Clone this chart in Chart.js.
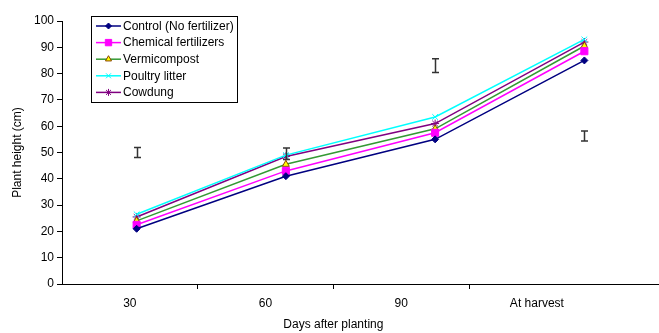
<!DOCTYPE html>
<html>
<head>
<meta charset="utf-8">
<script src="https://cdn.jsdelivr.net/npm/chart.js@4"></script>
<style>
  html, body { margin: 0; padding: 0; background: #fff; }
  #wrap { width: 659px; height: 333px; }
</style>
</head>
<body>
<div id="wrap"><canvas id="chart" width="659" height="333"></canvas></div>
<script>
// ---------------------------------------------------------------------------
// Data
// ---------------------------------------------------------------------------

const days = ['30', '60', '90', 'At harvest'];
const control = [21, 41, 55, 85];
const chemical = [22.5, 43, 57.5, 88.5];
const vermicompost = [24, 45.5, 59, 90.5];
const poultry = [26.5, 49, 63.5, 93];
const cowdung = [25.5, 48.5, 61, 92];

// free-standing LSD bars: centre and half length
const errMid = [50, 49.5, 83, 56.3];
const errHalf = [1.9, 2.2, 2.6, 1.9];

const Y_MIN = 0, Y_MAX = 100, Y_STEP = 10;
const LABEL_SPAN = 4.4;   // label axis is a bit narrower than the plot in the original

const FONT = { family: '"Liberation Sans", Arial, sans-serif', size: 12 };
const INK = '#000';

// ---------------------------------------------------------------------------
// Extras: error bars, boxed legend, x title
// ---------------------------------------------------------------------------

const extras = {
  id: 'extras',
  afterDatasetsDraw(chart) {
    const ctx = chart.ctx, xs = chart.scales.x, ys = chart.scales.y;
    ctx.save();
    ctx.strokeStyle = '#333';
    ctx.lineWidth = 1.5;
    errMid.forEach((m, i) => {
      const x = Math.round(xs.getPixelForValue(i)) + 0.5;
      const top = ys.getPixelForValue(m + errHalf[i]);
      const bot = ys.getPixelForValue(m - errHalf[i]);
      ctx.beginPath();
      ctx.moveTo(x, top); ctx.lineTo(x, bot);
      ctx.moveTo(x - 3.5, top); ctx.lineTo(x + 3.5, top);
      ctx.moveTo(x - 3.5, bot); ctx.lineTo(x + 3.5, bot);
      ctx.stroke();
    });
    ctx.restore();
  },
  afterDraw(chart) {
    const ctx = chart.ctx;
    ctx.save();
    // legend box
    ctx.fillStyle = '#fff';
    ctx.fillRect(91, 16, 146, 86);
    ctx.strokeStyle = '#000';
    ctx.lineWidth = 1;
    ctx.strokeRect(91.5, 16.5, 146, 86);
    ctx.font = `${FONT.size}px ${FONT.family}`;
    ctx.textBaseline = 'middle';
    chart.data.datasets.forEach((ds, i) => {
      const y = 26 + i * 16.6;
      ctx.strokeStyle = ds.borderColor;
      ctx.lineWidth = ds.borderWidth;
      ctx.beginPath(); ctx.moveTo(96, y); ctx.lineTo(121, y); ctx.stroke();
      if (Chart.helpers && Chart.helpers.drawPoint) {
        ctx.fillStyle = ds.pointBackgroundColor;
        ctx.strokeStyle = ds.pointBorderColor;
        ctx.lineWidth = 1;
        Chart.helpers.drawPoint(ctx, { pointStyle: ds.pointStyle, radius: ds.pointRadius - 0.5,
          borderWidth: 1, rotation: 0 }, 108.5, y);
      }
      ctx.fillStyle = INK;
      ctx.textAlign = 'left';
      ctx.fillText(ds.label, 123, y + 0.5);
    });
    // x axis title, centred under the label axis
    const xl = chart.scales.xl;
    ctx.textAlign = 'center';
    ctx.fillText('Days after planting', xl.getPixelForValue(days.length / 2), xl.bottom - 8);
    ctx.restore();
  }
};

// ---------------------------------------------------------------------------
// Chart
// ---------------------------------------------------------------------------

function series(label, data, color, style, radius, fill, border) {
  return {
    label, data,
    borderColor: color, backgroundColor: color, borderWidth: 1.5,
    pointStyle: style, pointRadius: radius, pointHoverRadius: radius,
    pointBackgroundColor: fill || color, pointBorderColor: border || color, pointBorderWidth: 1,
    tension: 0, fill: false
  };
}

new Chart(document.getElementById('chart'), {
  type: 'line',
  data: {
    labels: days,
    datasets: [
      series('Control (No fertilizer)', control, '#000080', 'rectRot', 3.5),
      series('Chemical fertilizers', chemical, '#FF00FF', 'rect', 5),
      series('Vermicompost', vermicompost, '#339933', 'triangle', 4, '#FFFF00', '#884400'),
      series('Poultry litter', poultry, '#00FFFF', 'crossRot', 4),
      series('Cowdung', cowdung, '#800080', 'star', 4),
    ]
  },
  options: {
    responsive: false,
    animation: false,
    devicePixelRatio: 1,
    layout: { autoPadding: false, padding: { top: 21, right: 0, bottom: 0, left: 0 } },
    plugins: { legend: { display: false }, tooltip: { enabled: false } },
    scales: {
      x: { type: 'category', display: false, offset: true,
           afterFit: s => { s.paddingLeft = 0; s.paddingRight = 0; } },
      xl: {
        type: 'linear', position: 'bottom', min: 0, max: LABEL_SPAN,
        afterBuildTicks: s => { s.ticks = days.map((d, i) => ({ value: i + 0.5 })); },
        afterFit: s => { s.height = 49; s.paddingLeft = 0; s.paddingRight = 0; },
        ticks: { autoSkip: false, maxRotation: 0, padding: 7, font: FONT, color: INK,
                 callback: (v, i) => days[i] },
        grid: { drawOnChartArea: false, offset: true, tickLength: 5,
                color: c => (c.index > 0 && c.index < days.length) ? '#000' : 'rgba(0,0,0,0)' },
        border: { color: '#000', width: 1 }
      },
      y: {
        min: Y_MIN, max: Y_MAX,
        afterFit: s => { s.width = 62; },
        ticks: { stepSize: Y_STEP, padding: 3, font: FONT, color: INK },
        grid: { drawOnChartArea: false, tickLength: 5, color: '#000' },
        border: { color: '#000', width: 1 },
        title: { display: true, text: 'Plant height (cm)', font: FONT, color: INK,
                 padding: { top: 10, bottom: 0 } }
      }
    }
  },
  plugins: [extras]
});
</script>
</body>
</html>
